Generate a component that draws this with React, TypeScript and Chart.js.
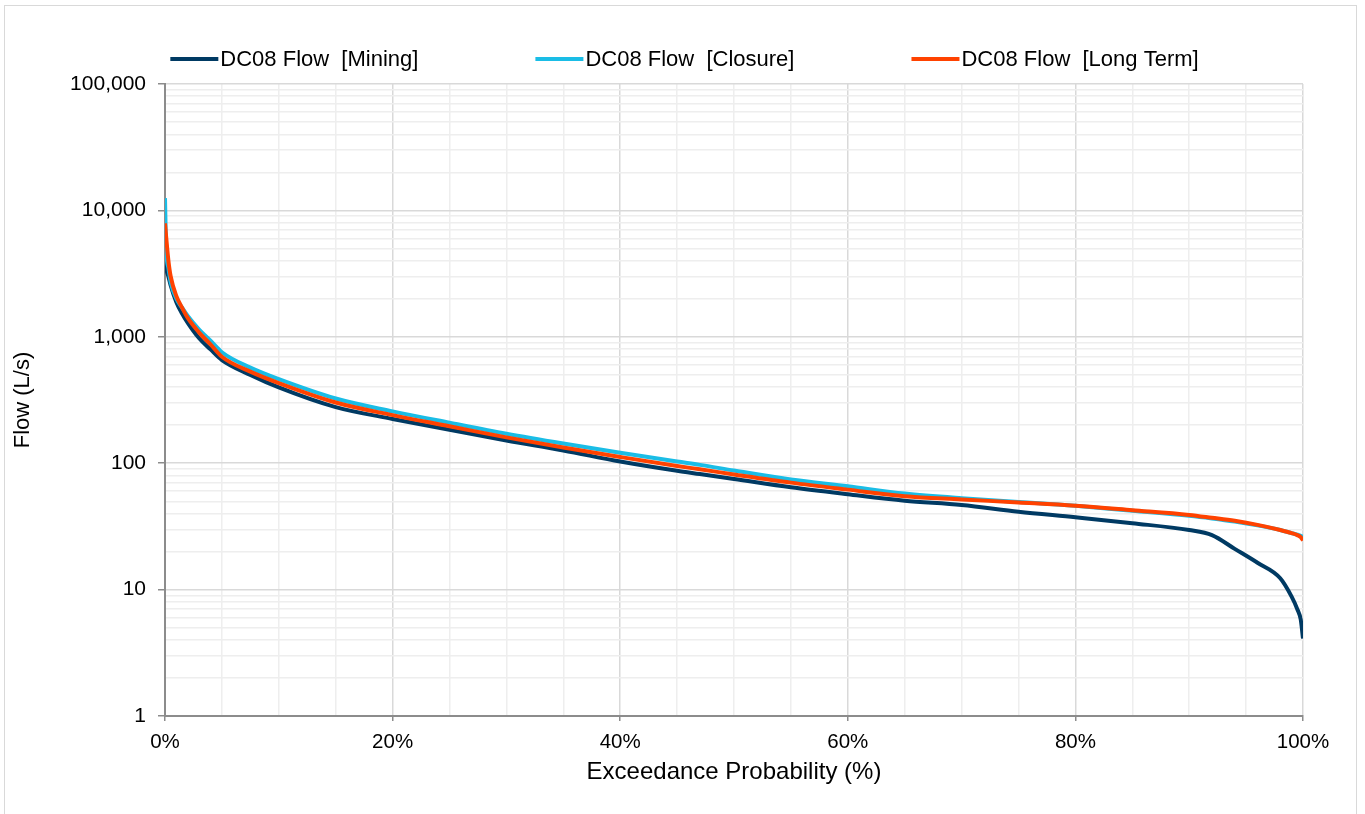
import React, { useEffect, useRef } from "react";
import { Chart, registerables } from "chart.js";

Chart.register(...registerables);

// Exceedance probability (%)
const exceedance = [0, 0.1, 0.3, 0.5, 1, 1.5, 2, 3, 4, 5, 7.5, 10, 15, 20, 25, 30, 35, 40, 45, 47, 50, 55, 60, 65, 70, 75, 80, 85, 90, 92, 94, 96, 98, 99, 99.5, 99.8, 100];

// Flow (L/s)
const miningFlow = [4200, 3500, 3000, 2550, 1880, 1530, 1290, 975, 795, 655, 500, 398, 278, 224, 184, 151, 126, 103, 87, 82, 75, 64.5, 56.8, 50.5, 46.7, 41.3, 37.3, 33.5, 29.6, 27, 21, 16.3, 12.3, 8.8, 7.0, 5.8, 4.1];
const closureFlow = [12500, 5000, 3500, 2700, 2000, 1700, 1460, 1140, 930, 755, 570, 462, 325, 257, 209, 171, 143, 121, 103, 97, 87.5, 74.3, 65.6, 57.5, 52.8, 49.4, 46, 42, 38.3, 36.5, 34.5, 32.2, 29.6, 28, 27.2, 26.6, 26];
const longTermFlow = [7900, 6200, 4000, 3000, 2100, 1700, 1410, 1080, 870, 695, 530, 430, 302, 240, 196, 160, 133, 112, 95, 89.5, 81.5, 70.2, 61.8, 54.8, 51.7, 48.9, 46.1, 42.5, 39, 37, 35, 32.5, 29.6, 28, 27, 26, 24.5];

const seriesLabels = ["DC08 Flow  [Mining]", "DC08 Flow  [Closure]", "DC08 Flow  [Long Term]"];
const seriesColors = ["#003A63", "#1ABDE6", "#FF4200"];
const seriesOrder = [2, 1, 0];

const yTickValues = [1, 2, 3, 4, 5, 6, 7, 8, 9, 10, 20, 30, 40, 50, 60, 70, 80, 90, 100, 200, 300, 400, 500, 600, 700, 800, 900, 1000, 2000, 3000, 4000, 5000, 6000, 7000, 8000, 9000, 10000, 20000, 30000, 40000, 50000, 60000, 70000, 80000, 90000, 100000];
const xTickValues = [0, 5, 10, 15, 20, 25, 30, 35, 40, 45, 50, 55, 60, 65, 70, 75, 80, 85, 90, 95, 100];

const FONT = '"Liberation Sans", Arial, sans-serif';

const isDecade = (v: number) => Math.abs(Math.log10(v) - Math.round(Math.log10(v))) < 1e-9;

const legendPlugin = {
  id: "customLegend",
  afterDraw(chart: any) {
    const ctx = chart.ctx as CanvasRenderingContext2D;
    ctx.save();
    ctx.font = `22px ${FONT}`;
    const lineW = 48;
    const gapText = 2;
    const gapItem = 117;
    const items = chart.data.datasets.map((d: any) => ({
      label: d.label as string,
      color: d.borderColor as string,
      w: lineW + gapText + ctx.measureText(d.label).width,
    }));
    const total = items.reduce((s: number, it: any) => s + it.w, 0) + gapItem * (items.length - 1);
    let x = chart.width / 2 + 4 - total / 2;
    const y = 53;
    for (const it of items) {
      ctx.strokeStyle = it.color;
      ctx.lineWidth = 4;
      ctx.beginPath();
      ctx.moveTo(x, y);
      ctx.lineTo(x + lineW, y);
      ctx.stroke();
      ctx.fillStyle = "#000";
      ctx.textBaseline = "middle";
      ctx.textAlign = "left";
      ctx.fillText(it.label, x + lineW + gapText, y + 1);
      x += it.w + gapItem;
    }
    ctx.restore();
  },
};

export default function App() {
  const ref = useRef<HTMLCanvasElement | null>(null);

  useEffect(() => {
    if (!ref.current) return;
    const flows = [miningFlow, closureFlow, longTermFlow];
    const chart = new Chart(ref.current, {
      type: "line",
      data: {
        datasets: flows.map((vals, i) => ({
          label: seriesLabels[i],
          data: exceedance.map((x, j) => ({ x, y: vals[j] })),
          borderColor: seriesColors[i],
          backgroundColor: seriesColors[i],
          borderWidth: 4,
          pointRadius: 0,
          order: seriesOrder[i],
          cubicInterpolationMode: "monotone" as const,
          fill: false,
        })),
      },
      options: {
        animation: false,
        responsive: false,
        devicePixelRatio: 1,
        layout: { padding: { left: 0, right: 53, top: 78, bottom: 0 } },
        plugins: {
          legend: { display: false },
          tooltip: { enabled: false },
        },
        scales: {
          x: {
            type: "linear",
            min: 0,
            max: 100,
            afterBuildTicks: (scale: any) => {
              scale.ticks = xTickValues.map((v) => ({ value: v }));
            },
            afterFit: (scale: any) => {
              scale.height = 100;
            },
            ticks: {
              autoSkip: false,
              maxRotation: 0,
              padding: 9,
              color: "#000",
              font: { family: FONT, size: 20.5 },
              callback: (v: any) => (Number(v) % 20 === 0 ? `${v}%` : ""),
            },
            grid: {
              drawTicks: true,
              tickLength: 5,
              lineWidth: 1.5,
              color: (c: any) => (c.tick && c.tick.value % 20 === 0 ? "#d9d9d9" : "#eeeeee"),
              tickColor: (c: any) => (c.tick && c.tick.value % 20 === 0 ? "#8c8c8c" : "rgba(0,0,0,0)"),
              tickWidth: 1.5,
            },
            border: { display: true, color: "#8c8c8c", width: 2 },
            title: {
              display: true,
              text: "Exceedance Probability (%)",
              color: "#000",
              font: { family: FONT, size: 24 },
              padding: { top: 0, bottom: 29 },
            },
          },
          y: {
            type: "logarithmic",
            min: 1,
            max: 100000,
            afterBuildTicks: (scale: any) => {
              scale.ticks = yTickValues.map((v) => ({ value: v, major: isDecade(v) }));
            },
            afterFit: (scale: any) => {
              scale.width = 160;
            },
            ticks: {
              autoSkip: false,
              padding: 12,
              color: "#000",
              font: { family: FONT, size: 21 },
              callback: (v: any) => (isDecade(Number(v)) ? Number(v).toLocaleString("en-US") : ""),
            },
            grid: {
              drawTicks: true,
              tickLength: 7,
              lineWidth: 1.5,
              color: (c: any) => (c.tick && isDecade(c.tick.value) ? "#d9d9d9" : "#eeeeee"),
              tickColor: (c: any) => (c.tick && isDecade(c.tick.value) ? "#8c8c8c" : "rgba(0,0,0,0)"),
              tickWidth: 1.5,
            },
            border: { display: true, color: "#8c8c8c", width: 2 },
            title: {
              display: true,
              text: "Flow (L/s)",
              color: "#000",
              font: { family: FONT, size: 22 },
              padding: { top: 5, bottom: 0 },
            },
          },
        },
      },
      plugins: [legendPlugin],
    });
    return () => chart.destroy();
  }, []);

  return (
    <div
      style={{
        position: "absolute",
        left: 4,
        top: 5,
        width: 1353,
        height: 812,
        border: "1px solid #d9d9d9",
        boxSizing: "border-box",
        background: "#fff",
      }}
    >
      <canvas ref={ref} width={1351} height={810} style={{ display: "block" }} />
    </div>
  );
}
